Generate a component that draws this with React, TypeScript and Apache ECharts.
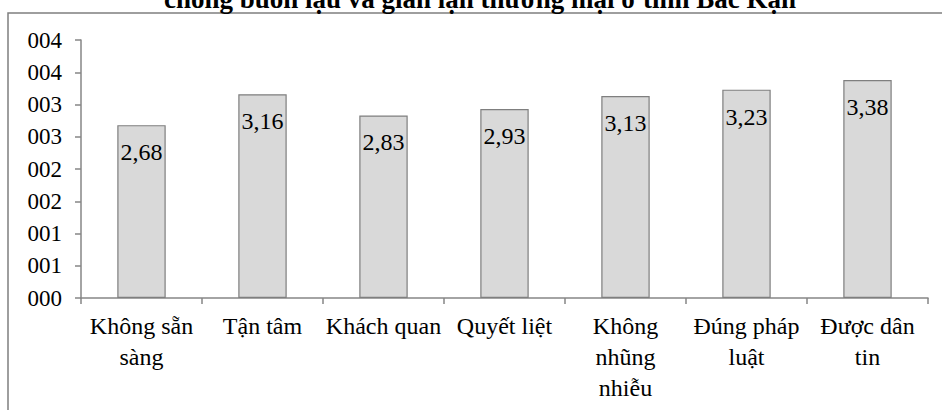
import React, { useEffect, useRef } from "react";
import * as echarts from "echarts";

const categories = [
  "Không sẵn\nsàng",
  "Tận tâm",
  "Khách quan",
  "Quyết liệt",
  "Không\nnhũng\nnhiễu",
  "Đúng pháp\nluật",
  "Được dân\ntin",
];
const values = [2.68, 3.16, 2.83, 2.93, 3.13, 3.23, 3.38];
const titleText = "chống buôn lậu và gian lận thương mại ở tỉnh Bắc Kạn";

const FONT = "Liberation Serif";

function fmtAxis(v: number): string {
  const r = Math.round(v + 1e-9);
  return String(r).padStart(3, "0");
}

export default function App() {
  const ref = useRef<HTMLDivElement>(null);
  useEffect(() => {
    if (!ref.current) return;
    const chart = echarts.init(ref.current, undefined, { renderer: "svg" });
    chart.setOption({
      animation: false,
      backgroundColor: "#ffffff",
      textStyle: { fontFamily: FONT },
      graphic: [
        {
          type: "rect",
          shape: { x: 8, y: 13, width: 1200, height: 600 },
          style: { fill: "none", stroke: "#7f7f7f", lineWidth: 1.5 },
          z: 0,
        },
        {
          type: "text",
          x: 480,
          y: -1.5,
          style: {
            text: titleText,
            fontFamily: FONT,
            fontWeight: "bold",
            fontSize: 27,
            fill: "#000",
            align: "center",
            verticalAlign: "middle",
          },
          z: 10,
        },
      ],
      grid: { left: 81, right: 14, top: 40, bottom: 112, containLabel: false },
      xAxis: {
        type: "category",
        data: categories,
        axisLine: { show: true, lineStyle: { color: "#868686", width: 1.5 } },
        axisTick: { show: true, length: 6, lineStyle: { color: "#868686", width: 1.5 }, alignWithLabel: false },
        axisLabel: {
          interval: 0,
          fontFamily: FONT,
          fontSize: 24,
          color: "#000",
          lineHeight: 31,
          margin: 12,
        },
      },
      yAxis: {
        type: "value",
        min: 0,
        max: 4,
        interval: 0.5,
        splitLine: { show: false },
        axisLine: { show: true, lineStyle: { color: "#868686", width: 1.5 } },
        axisTick: { show: true, length: 6, lineStyle: { color: "#868686", width: 1.5 } },
        axisLabel: {
          fontFamily: FONT,
          fontSize: 23,
          color: "#000",
          margin: 19,
          formatter: (v: number) => fmtAxis(v),
        },
      },
      series: [
        {
          type: "bar",
          data: values,
          barWidth: "40%",
          itemStyle: { color: "#d9d9d9", borderColor: "#7f7f7f", borderWidth: 1.2 },
          label: {
            show: true,
            position: "insideTop",
            distance: 15,
            fontFamily: FONT,
            fontSize: 24,
            color: "#000",
            formatter: (p: any) => String(p.value.toFixed(2)).replace(".", ","),
          },
        },
      ],
    });
    return () => chart.dispose();
  }, []);
  return (
    <div
      ref={ref}
      style={{ position: "fixed", left: 0, top: 0, width: 942, height: 410 }}
    />
  );
}
